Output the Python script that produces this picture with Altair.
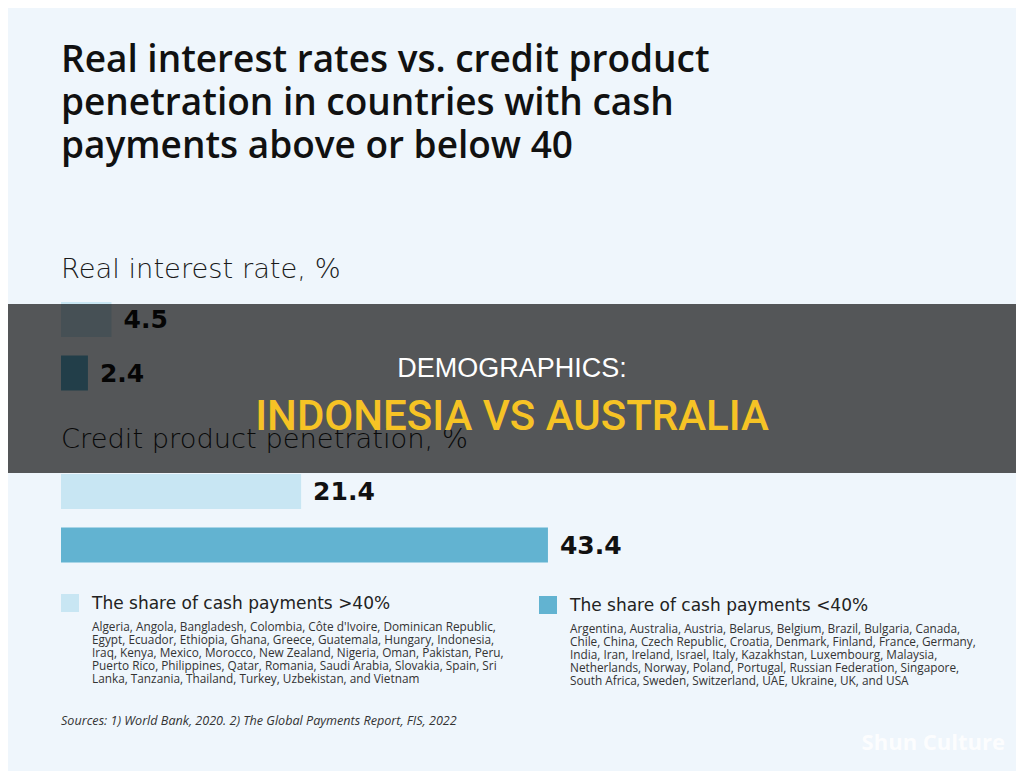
import altair as alt
import pandas as pd

# ---- data ----
measures = ["Real interest rate, %", "Real interest rate, %",
            "Credit product penetration, %", "Credit product penetration, %"]
groups = ["The share of cash payments >40%", "The share of cash payments  <40%",
          "The share of cash payments >40%", "The share of cash payments  <40%"]
values = [4.5, 2.4, 21.4, 43.4]
labels = ["4.5", "2.4", "21.4", "43.4"]

title_lines = ["Real interest rates vs. credit product",
               "penetration in countries with cash",
               "payments above or below 40"]
countries_high = ["Algeria, Angola, Bangladesh, Colombia, Côte d'Ivoire, Dominican Republic,",
                  "Egypt, Ecuador, Ethiopia, Ghana, Greece, Guatemala, Hungary, Indonesia,",
                  "Iraq, Kenya, Mexico, Morocco, New Zealand, Nigeria, Oman, Pakistan, Peru,",
                  "Puerto Rico, Philippines, Qatar, Romania, Saudi Arabia, Slovakia, Spain, Sri",
                  "Lanka, Tanzania, Thailand, Turkey, Uzbekistan, and Vietnam"]
countries_low = ["Argentina, Australia, Austria, Belarus, Belgium, Brazil, Bulgaria, Canada,",
                 "Chile, China, Czech Republic, Croatia, Denmark, Finland, France, Germany,",
                 "India, Iran, Ireland, Israel, Italy, Kazakhstan, Luxembourg, Malaysia,",
                 "Netherlands, Norway, Poland, Portugal, Russian Federation, Singapore,",
                 "South Africa, Sweden, Switzerland, UAE, Ukraine, UK, and USA"]
source_text = "Sources: 1) World Bank, 2020. 2) The Global Payments Report, FIS, 2022"
banner_top = "DEMOGRAPHICS:"
banner_main = "INDONESIA VS AUSTRALIA"
watermark = "Shun Culture"

LIGHT = "#c8e6f3"
MID = "#62b3d1"
BG = "#eff6fc"
FONT = "Open Sans"
WIDE = "DejaVu Sans"

df = pd.DataFrame({"measure": measures, "group": groups, "value": values, "label": labels})

xscale = alt.Scale(domain=[0, 50], range=[53, 614])
yscale = alt.Scale(domain=[measures[0], measures[2]], range=[294, 554.5],
                   paddingInner=0.4855, paddingOuter=0)
yoff = alt.Scale(domain=[groups[0], groups[1]], paddingInner=0.346, paddingOuter=0)
cscale = alt.Scale(domain=[groups[0], groups[1]], range=[LIGHT, MID])

base = alt.Chart(df).encode(
    y=alt.Y("measure:N", scale=yscale, axis=None),
    yOffset=alt.YOffset("group:N", scale=yoff),
)
bars = base.mark_bar(cornerRadius=0).encode(
    x=alt.X("value:Q", scale=xscale, axis=None),
    color=alt.Color("group:N", scale=cscale, legend=None),
)
bar_labels = base.mark_text(align="left", baseline="middle", dx=12, dy=1, font=WIDE,
                            fontSize=25, fontWeight="bold", color="#111").encode(
    x=alt.X("value:Q", scale=xscale, axis=None),
    text="label:N",
)


def txt(lines, x, y, size, weight=400, color="#111", lh=None, style="normal",
        font=FONT, align="left", opacity=1.0):
    d = pd.DataFrame({"t": ["\n".join(lines)]})
    kw = dict(align=align, baseline="alphabetic", font=font, fontSize=size,
              fontWeight=weight, color=color, lineBreak="\n", fontStyle=style,
              opacity=opacity)
    if lh:
        kw["lineHeight"] = lh
    return alt.Chart(d).mark_text(**kw).encode(
        x=alt.value(x), y=alt.value(y), text="t:N")


title = txt(title_lines, 53, 64, 37, weight=600, lh=43)
sub1 = txt(["Real interest rate, %"], 53, 270, 27.3, weight=300, color="#1a1a1a", font=WIDE)
sub2 = txt(["Credit product penetration, %"], 53, 440, 27.3, weight=300, color="#1a1a1a", font=WIDE)

leg_df = pd.DataFrame({"group": groups[:2]})
sq1 = alt.Chart(leg_df.iloc[[0]]).mark_rect().encode(
    x=alt.value(53), x2=alt.value(71), y=alt.value(586), y2=alt.value(604),
    color=alt.Color("group:N", scale=cscale, legend=None))
sq2 = alt.Chart(leg_df.iloc[[1]]).mark_rect().encode(
    x=alt.value(531), x2=alt.value(549), y=alt.value(588), y2=alt.value(606),
    color=alt.Color("group:N", scale=cscale, legend=None))
lt1 = txt([groups[0]], 84, 601, 17, color="#222", font=WIDE)
lt2 = txt([groups[1]], 562, 603, 17, color="#222", font=WIDE)
ct1 = txt(countries_high, 84, 623, 11.8, color="#333", lh=13)
ct2 = txt(countries_low, 562, 625, 11.8, color="#333", lh=13)
src = txt([source_text], 53, 717, 12.6, style="italic", color="#333")

overlay = alt.Chart(pd.DataFrame({"a": [1]})).mark_rect(color="black", opacity=0.65).encode(
    x=alt.value(0), x2=alt.value(1008), y=alt.value(296), y2=alt.value(465))
b1 = txt([banner_top], 504, 369, 27, color="white", font="Liberation Sans", align="center")
b2 = txt([banner_main], 504, 422, 42, weight=500, color="#f6c325", font="Roboto",
         align="center")
wm = txt([watermark], 997, 742, 22, weight=700, color="white", align="right", opacity=0.85)

chart = alt.layer(
    title, sub1, sub2, bars, bar_labels, sq1, sq2, lt1, lt2, ct1, ct2, src,
    overlay, b1, b2, wm
).properties(
    width=1008, height=763,
    autosize=alt.AutoSizeParams(type="fit", contains="padding"),
    padding=0,
).configure(background=BG).configure_view(stroke=None)

chart.save("out.html", embed_options={"renderer": "svg", "actions": False})
